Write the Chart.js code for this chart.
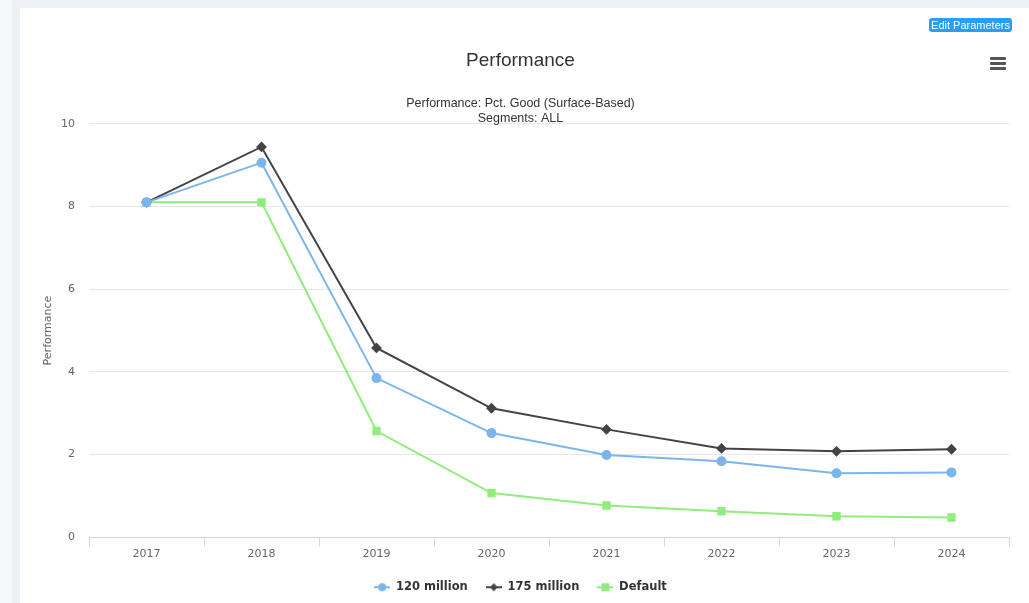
<!DOCTYPE html>
<html>
<head>
<meta charset="utf-8">
<script src="https://cdn.jsdelivr.net/npm/chart.js@4/dist/chart.umd.min.js"></script>
<style>
  html,body{margin:0;padding:0;background:#eef1f4;width:1029px;height:603px;overflow:hidden;}
  #card{position:absolute;left:20px;top:8px;width:1009px;height:595px;background:#fff;}
  #leftstrip{position:absolute;left:0;top:0;width:12px;height:603px;background:#f7f8fa;}
  #c{position:absolute;left:0;top:0;}
  #btn{position:absolute;left:929px;top:18px;width:83px;height:14px;background:#2a9df4;border-radius:3px;color:#fff;
       font:11px "Liberation Sans Narrow","Liberation Sans",Arial,sans-serif;text-align:center;line-height:14px;}
  #menu{position:absolute;left:990px;top:57px;width:16px;height:12px;}
  #menu div{height:3px;background:#555;margin-bottom:2px;border-radius:1px;}
</style>
</head>
<body>
<div id="leftstrip"></div>
<div id="card"></div>
<canvas id="c" width="1029" height="603"></canvas>
<div id="btn">Edit Parameters</div>
<div id="menu"><div></div><div></div><div></div></div>
<script>
const categories = ['2017','2018','2019','2020','2021','2022','2023','2024'];
const series120 = [8.1, 9.06, 3.85, 2.52, 1.99, 1.84, 1.55, 1.57];
const series175 = [8.1, 9.44, 4.58, 3.12, 2.61, 2.15, 2.08, 2.13];
const seriesDefault = [8.1, 8.1, 2.57, 1.07, 0.77, 0.63, 0.51, 0.48];
const yTicks = [0, 2, 4, 6, 8, 10];

function legendIcon(color, style){
  const cv = document.createElement('canvas');
  cv.width = 16; cv.height = 10;
  const ctx = cv.getContext('2d');
  ctx.strokeStyle = color; ctx.lineWidth = 2;
  ctx.beginPath(); ctx.moveTo(0,5); ctx.lineTo(16,5); ctx.stroke();
  ctx.fillStyle = color;
  ctx.beginPath();
  if (style === 'circle') { ctx.arc(8,5,4,0,Math.PI*2); }
  else if (style === 'rectRot') { ctx.moveTo(8,1); ctx.lineTo(12,5); ctx.lineTo(8,9); ctx.lineTo(4,5); ctx.closePath(); }
  else { ctx.rect(4,1,8,8); }
  ctx.fill();
  return cv;
}

const ds = [
  {label:'120 million', data:series120, color:'#7cb5ec', style:'circle'},
  {label:'175 million', data:series175, color:'#434348', style:'rectRot'},
  {label:'Default', data:seriesDefault, color:'#90ed7d', style:'rect'}
];

new Chart(document.getElementById('c'), {
  type:'line',
  data:{
    labels:categories,
    datasets:ds.map(d=>({
      label:d.label, data:d.data, borderColor:d.color, backgroundColor:d.color,
      borderWidth:2, pointStyle:d.style, pointRadius:d.style==='rect'?4.5:4, pointHoverRadius:5,
      tension:0, fill:false
    }))
  },
  options:{
    responsive:false, animation:false, devicePixelRatio:1,
    layout:{padding:{top:49,left:32,right:20,bottom:0}},
    plugins:{
      title:{display:true,text:'Performance',color:'#333',
        font:{family:'"Liberation Sans", Arial, sans-serif',size:19,weight:'normal',lineHeight:1.2},padding:{top:0,bottom:24}},
      subtitle:{display:true,text:['Performance: Pct. Good (Surface-Based)','Segments: ALL'],color:'#333',
        font:{family:'"Liberation Sans", Arial, sans-serif',size:12.5,weight:'normal',lineHeight:1.2},padding:{top:0,bottom:-2}},
      legend:{position:'bottom',
        labels:{usePointStyle:true,pointStyleWidth:16,padding:18,color:'#333',
          font:{family:'"DejaVu Sans", Verdana, sans-serif',size:11.5,weight:'bold'},
          generateLabels:(chart)=>ds.map((d,i)=>({text:d.label,fillStyle:d.color,strokeStyle:d.color,
            pointStyle:legendIcon(d.color,d.style),datasetIndex:i,hidden:false,fontColor:'#333'}))}},
      tooltip:{enabled:false}
    },
    scales:{
      x:{offset:true,
        afterFit:(s)=>{s.height = s.height + 2;},
        grid:{offset:true,drawOnChartArea:false,drawTicks:true,tickLength:9,color:'#ccd6eb'},
        border:{color:'#ccd6eb',width:1},
        ticks:{padding:1,color:'#666',font:{family:'"DejaVu Sans", Verdana, sans-serif',size:11}}},
      y:{min:0,max:10,
        afterBuildTicks:(s)=>{s.ticks = yTicks.map(v=>({value:v}));},
        afterFit:(s)=>{s.width = 57;},
        grid:{color:'#e6e6e6',drawTicks:false},
        border:{display:false},
        ticks:{padding:14,color:'#666',font:{family:'"DejaVu Sans", Verdana, sans-serif',size:11}},
        title:{display:true,text:'Performance',color:'#666',
          font:{family:'"DejaVu Sans", Verdana, sans-serif',size:11},padding:{top:10,bottom:0}}}
    }
  }
});
</script>
</body>
</html>
